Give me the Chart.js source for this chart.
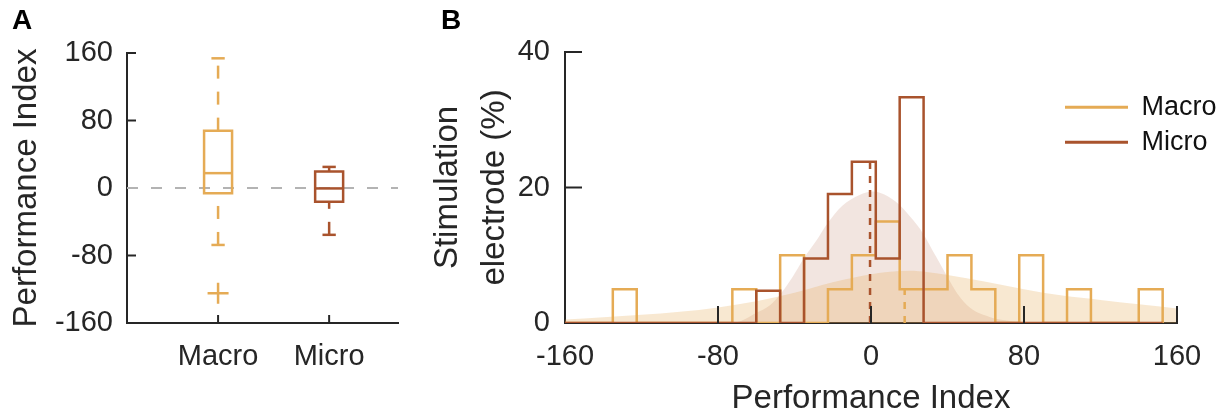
<!DOCTYPE html>
<html><head><meta charset="utf-8">
<script src="https://cdn.jsdelivr.net/npm/chart.js@4.4.1/dist/chart.umd.min.js"></script>
<style>
html,body{margin:0;padding:0;background:#fff;}
#wrap{position:relative;width:1226px;height:415px;overflow:hidden;background:#fff;}
canvas{position:absolute;top:0;}
#ca{left:0;} #cb{left:420px;}
.panel{position:absolute;font-family:'Liberation Sans',Arial,sans-serif;font-weight:bold;font-size:28px;line-height:28px;color:#000;}
</style></head><body>
<div id="wrap">
<canvas id="ca" width="420" height="415"></canvas>
<canvas id="cb" width="806" height="415"></canvas>
<div class="panel" style="left:12px;top:6px">A</div>
<div class="panel" style="left:441px;top:6px">B</div>
</div>
<script>
// ---------- Panel A data (box plot) ----------
const boxCategories = ['Macro', 'Micro'];
const boxWhiskerLow = [-67.5, -55.5];
const boxQ1 = [-6.3, -16.2];
const boxMedian = [17.6, -0.5];
const boxQ3 = [68, 19.5];
const boxWhiskerHigh = [153.7, 25];
const boxOutliers = [[-124.8], []];
const boxYTicks = [-160, -80, 0, 80, 160];

// ---------- Panel B data (histograms + densities) ----------
const histEdges = [-160, -147.5, -135, -122.5, -110, -97.5, -85, -72.5, -60, -47.5, -35, -22.5, -10, 2.5, 15, 27.5, 40, 52.5, 65, 77.5, 90, 102.5, 115, 127.5, 140, 152.5];
const macroPct = [0, 0, 5, 0, 0, 0, 0, 5, 0, 10, 0, 5, 10, 15, 5, 5, 10, 5, 0, 10, 0, 5, 0, 0, 5];
const microPct = [0, 0, 0, 0, 0, 0, 0, 0, 4.76, 0, 9.52, 19.05, 23.81, 9.52, 33.33, 0, 0, 0, 0, 0, 0, 0, 0, 0, 0];
const macroKdeX = [-160, -140, -120, -100, -80, -60, -40, -20, 0, 10, 20, 30, 40, 60, 80, 100, 120, 140, 160];
const macroKdeY = [0.5, 0.85, 1.2, 1.65, 2.3, 3.2, 4.45, 6.0, 7.2, 7.55, 7.7, 7.5, 7.1, 6.1, 5.0, 4.05, 3.4, 2.75, 2.15];
const microKdeX = [-160, -75, -68, -60, -53, -47, -41, -35, -28, -23, -15, -6, 1, 5, 13, 22, 27, 34, 40, 45, 52, 62, 70, 85, 160];
const microKdeY = [0, 0, 0.3, 1.5, 2.6, 4.4, 6.8, 9.6, 12.4, 14.6, 17.3, 18.9, 19.4, 19.2, 17.9, 15.2, 13.3, 9.8, 6.8, 4.4, 2.2, 0.9, 0.4, 0.1, 0];
const histXTicks = [-160, -80, 0, 80, 160];
const histYTicks = [0, 20, 40];
const legendLabels = ['Macro', 'Micro'];

// ---------- styles ----------
const FONT = "'Liberation Sans', Arial, Helvetica, sans-serif";
Chart.defaults.font.family = FONT;
Chart.defaults.color = '#262626';
const MACRO = '#E5AB55', MICRO = '#A9532D', AXIS = '#262626', ZERO = '#B3B3B3';
const seriesColors = [MACRO, MICRO];
const TICK_FONT = {size: 29, lineHeight: 1.2};

const inwardTicks = {
  id: 'inwardTicks',
  afterDatasetsDraw(chart, args, o) {
    if (!o || !o.len) return;
    const ctx = chart.ctx, ca = chart.chartArea;
    ctx.save();
    ctx.strokeStyle = o.color; ctx.lineWidth = o.width; ctx.lineCap = 'butt';
    (o.x || []).forEach(v => {
      const px = chart.scales.x.getPixelForValue(v);
      ctx.beginPath(); ctx.moveTo(px, ca.bottom); ctx.lineTo(px, ca.bottom - o.lenX); ctx.stroke();
    });
    (o.y || []).forEach(v => {
      const py = chart.scales.y.getPixelForValue(v);
      ctx.beginPath(); ctx.moveTo(ca.left, py); ctx.lineTo(ca.left + o.len, py); ctx.stroke();
    });
    ctx.restore();
  }
};
const placeLegend = {
  id: 'placeLegend',
  afterLayout(chart, args, o) {
    const lg = chart.legend;
    if (!lg || !o || o.left === undefined) return;
    lg.left = o.left; lg.top = o.top; lg.width = 160; lg.height = 200;
    lg.right = o.left + 160; lg.bottom = o.top + 200;
  }
};
Chart.register(inwardTicks, placeLegend);

const line = (data, color, width, extra) => Object.assign({
  data, borderColor: color, backgroundColor: color, borderWidth: width,
  pointRadius: 0, fill: false, tension: 0, borderJoinStyle: 'miter'
}, extra || {});

// ---------- Panel A ----------
const BOX_HW = 0.126, CAP_HW = 0.06, XMIN_A = 0.18, XMAX_A = 2.62;
const dsA = [];
dsA.push(line([{x: XMIN_A, y: 0}, {x: XMAX_A, y: 0}], ZERO, 2, {borderDash: [11, 13], order: 20}));
boxCategories.forEach((c, i) => {
  const x = i + 1, col = seriesColors[i];
  dsA.push(line([
    {x: x - BOX_HW, y: boxQ1[i]}, {x: x + BOX_HW, y: boxQ1[i]}, {x: x + BOX_HW, y: boxQ3[i]},
    {x: x - BOX_HW, y: boxQ3[i]}, {x: x - BOX_HW, y: boxQ1[i]}, {x: x + BOX_HW, y: boxQ1[i]}
  ], col, 2.5, {order: 1}));
  dsA.push(line([{x: x - BOX_HW, y: boxMedian[i]}, {x: x + BOX_HW, y: boxMedian[i]}], col, 2.5, {order: 1}));
  dsA.push(line([{x: x, y: boxQ3[i]}, {x: x, y: boxWhiskerHigh[i]}], col, 2.5, {borderDash: [13, 13], order: 2}));
  dsA.push(line([{x: x, y: boxWhiskerLow[i]}, {x: x, y: boxQ1[i]}], col, 2.5, {borderDash: [13, 13], order: 2}));
  dsA.push(line([{x: x - CAP_HW, y: boxWhiskerHigh[i]}, {x: x + CAP_HW, y: boxWhiskerHigh[i]}], col, 2.5, {order: 1}));
  dsA.push(line([{x: x - CAP_HW, y: boxWhiskerLow[i]}, {x: x + CAP_HW, y: boxWhiskerLow[i]}], col, 2.5, {order: 1}));
  if (boxOutliers[i].length) {
    dsA.push({data: boxOutliers[i].map(v => ({x: x, y: v})), showLine: false, pointStyle: 'cross',
      pointRadius: 10.5, pointBorderWidth: 2.5, borderColor: col, pointBorderColor: col, backgroundColor: col, order: 1});
  }
});

new Chart(document.getElementById('ca'), {
  type: 'line',
  data: {datasets: dsA},
  options: {
    responsive: false, animation: false, devicePixelRatio: 1, events: [],
    layout: {padding: {left: 0, right: 22, top: 53, bottom: 0}},
    plugins: {legend: {display: false}, tooltip: {enabled: false},
      inwardTicks: {x: [1, 2], y: [-80, 80, 160], len: 9, lenX: 8, color: AXIS, width: 2}},
    scales: {
      x: {type: 'linear', min: XMIN_A, max: XMAX_A,
        afterBuildTicks: s => { s.ticks = boxCategories.map((c, i) => ({value: i + 1})); },
        afterFit: s => { s.height = 92; },
        grid: {display: false, drawTicks: false},
        border: {display: true, color: AXIS, width: 2},
        ticks: {autoSkip: false, maxRotation: 0, padding: 17, font: TICK_FONT, color: AXIS,
          callback: v => boxCategories[Math.round(v) - 1]}},
      y: {type: 'linear', min: -160, max: 160,
        afterBuildTicks: s => { s.ticks = boxYTicks.map(v => ({value: v})); },
        afterFit: s => { s.width = 127; },
        grid: {display: false, drawTicks: false},
        border: {display: true, color: AXIS, width: 2},
        ticks: {autoSkip: false, padding: 14, font: TICK_FONT, color: AXIS, callback: v => String(v)},
        title: {display: true, text: 'Performance Index', color: AXIS,
          font: {size: 33, lineHeight: 1}, padding: {top: 10, bottom: 0}}}
    }
  }
});

// ---------- Panel B ----------
const stairs = pct => {
  const pts = [];
  pct.forEach((v, j) => { pts.push({x: histEdges[j], y: v}); pts.push({x: histEdges[j + 1], y: v}); });
  pts.push({x: histEdges[histEdges.length - 1], y: 0});
  return pts;
};
const binHeight = (pct, v) => {
  for (let j = 0; j < pct.length; j++) if (v >= histEdges[j] && v < histEdges[j + 1]) return pct[j];
  return 0;
};
const kde = (xs, ys) => xs.map((x, k) => ({x: x, y: ys[k]}));

const dsB = [
  {data: kde(macroKdeX, macroKdeY), fill: 'origin', backgroundColor: 'rgba(229,171,85,0.27)',
    borderWidth: 0, pointRadius: 0, cubicInterpolationMode: 'monotone', order: 9},
  {data: kde(microKdeX, microKdeY), fill: 'origin', backgroundColor: 'rgba(169,83,45,0.15)',
    borderWidth: 0, pointRadius: 0, cubicInterpolationMode: 'monotone', order: 10},
  line(stairs(macroPct), MACRO, 2.5, {order: 4}),
  line(stairs(microPct), MICRO, 2.5, {order: 3}),
  line([{x: boxMedian[0], y: 0}, {x: boxMedian[0], y: binHeight(macroPct, boxMedian[0])}], MACRO, 2.5, {borderDash: [7, 7], order: 5}),
  line([{x: boxMedian[1], y: 0}, {x: boxMedian[1], y: binHeight(microPct, boxMedian[1])}], MICRO, 2.5, {borderDash: [7, 7], order: 5})
];

new Chart(document.getElementById('cb'), {
  type: 'line',
  data: {datasets: dsB},
  options: {
    responsive: false, animation: false, devicePixelRatio: 1, events: [],
    layout: {padding: {left: 0, right: 49, top: 52, bottom: 0}},
    plugins: {
      tooltip: {enabled: false},
      legend: {display: true, position: 'chartArea', align: 'start',
        labels: {boxWidth: 63, boxHeight: 3, padding: 8, color: '#111', font: {size: 27, lineHeight: 1.2},
          generateLabels: () => legendLabels.map((t, i) => ({text: t, fillStyle: seriesColors[i],
            strokeStyle: seriesColors[i], lineWidth: 0, hidden: false, datasetIndex: i, fontColor: '#111'}))}},
      placeLegend: {left: 637, top: 85.8},
      inwardTicks: {x: [-80, 0, 80, 160], y: [20, 40], len: 17, lenX: 17, color: AXIS, width: 2}
    },
    scales: {
      x: {type: 'linear', min: -160, max: 160,
        afterBuildTicks: s => { s.ticks = histXTicks.map(v => ({value: v})); },
        afterFit: s => { s.height = 92; },
        grid: {display: false, drawTicks: false},
        border: {display: true, color: AXIS, width: 2},
        ticks: {autoSkip: false, maxRotation: 0, padding: 17, font: TICK_FONT, color: AXIS, callback: v => String(v)},
        title: {display: true, text: 'Performance Index', color: AXIS, font: {size: 33, lineHeight: 1}, padding: {top: 0, bottom: 0}}},
      y: {type: 'linear', min: 0, max: 40,
        afterBuildTicks: s => { s.ticks = histYTicks.map(v => ({value: v})); },
        afterFit: s => { s.width = 145; },
        grid: {display: false, drawTicks: false},
        border: {display: true, color: AXIS, width: 2},
        ticks: {autoSkip: false, padding: 15, font: TICK_FONT, color: AXIS, callback: v => String(v)},
        title: {display: true, text: ['Stimulation', 'electrode (%)'], color: AXIS,
          font: {size: 33, lineHeight: 1.415}, padding: {top: 5, bottom: 0}}}
    }
  }
});
</script>
</body></html>
